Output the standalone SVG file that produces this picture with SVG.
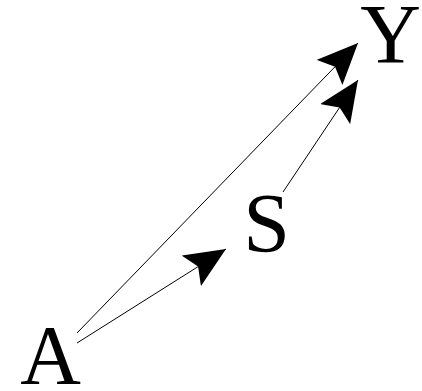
<svg xmlns="http://www.w3.org/2000/svg" width="422" height="391" viewBox="0 0 422 391">
<style>
.lbl{font-family:"Liberation Serif","Times New Roman",serif;font-size:84px;fill:#000;text-anchor:middle}
.edge{stroke:#000;stroke-width:1;fill:none;marker-end:url(#ah)}
</style>
<defs>
<marker id="ah" markerUnits="userSpaceOnUse" viewBox="0 0 41 36" markerWidth="41" markerHeight="36" refX="41" refY="18" orient="auto">
<path d="M41,18 L0,0 L8,18 L0,36 Z" fill="#000"/>
</marker>
</defs>
<rect width="422" height="391" fill="#fff"/>
<g id="connectors">
<line class="edge" x1="77" y1="343" x2="226" y2="249"/>
<line class="edge" x1="77" y1="333" x2="358" y2="43"/>
<line class="edge" x1="283" y1="192" x2="358" y2="80"/>
</g>
<g id="node-A"><text class="lbl" x="50.5" y="384">A</text></g>
<g id="node-S"><text class="lbl" x="266.5" y="252">S</text></g>
<g id="node-Y"><text class="lbl" x="390.5" y="63">Y</text></g>
</svg>
